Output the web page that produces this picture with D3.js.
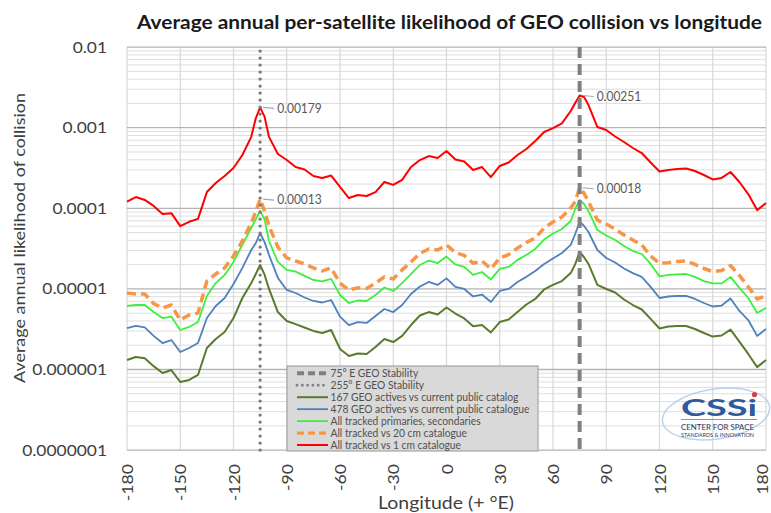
<!DOCTYPE html>
<html><head><meta charset="utf-8">
<script src="https://cdn.jsdelivr.net/npm/d3@7"></script>
<style>
body{margin:0;background:#fff}
svg{display:block}
text{font-family:Lato,"Open Sans",sans-serif}
</style>
</head><body>
<svg id="c" width="771" height="513"></svg>
<script>
// ---------- DATA ----------
const lon = [-180,-175,-170,-165,-160,-155,-150,-145,-140,-135,-130,-125,-120,-115,-110,-107.5,-105,-102.5,-100,-95,-90,-85,-80,-75,-70,-65,-60,-55,-50,-45,-40,-35,-30,-25,-20,-15,-10,-5,0,5,10,15,20,25,30,35,40,45,50,55,60,65,70,72.5,75,77.5,80,85,90,95,100,105,110,115,120,125,130,135,140,145,150,155,160,165,170,175,180];

const red1cm = [1.21e-4,1.38e-4,1.27e-4,1.07e-4,8.5e-5,8.7e-5,6.0e-5,6.8e-5,7.4e-5,1.59e-4,2.06e-4,2.52e-4,3.16e-4,4.58e-4,7.7e-4,1.3e-3,1.79e-3,1.37e-3,7.7e-4,4.72e-4,3.97e-4,3.25e-4,3.03e-4,2.52e-4,2.38e-4,2.55e-4,1.84e-4,1.34e-4,1.46e-4,1.42e-4,1.59e-4,2.12e-4,1.95e-4,2.25e-4,3.25e-4,3.97e-4,4.45e-4,4.21e-4,5.14e-4,4.03e-4,3.81e-4,2.99e-4,3.25e-4,2.44e-4,3.35e-4,3.70e-4,4.58e-4,5.44e-4,6.84e-4,8.85e-4,9.9e-4,1.13e-3,1.61e-3,2.03e-3,2.51e-3,2.40e-3,1.91e-3,1.02e-3,9.35e-4,7.78e-4,6.65e-4,5.6e-4,4.85e-4,3.70e-4,2.86e-4,2.99e-4,3.07e-4,3.12e-4,2.90e-4,2.59e-4,2.28e-4,2.38e-4,2.82e-4,2.12e-4,1.50e-4,9.5e-5,1.16e-4];

const orange20cm = [8.89e-6,8.65e-6,8.65e-6,6.59e-6,5.79e-6,6.31e-6,4.11e-6,4.74e-6,5.02e-6,1.25e-5,1.53e-5,1.82e-5,2.56e-5,3.93e-5,6.57e-5,9.0e-5,1.3e-4,9.25e-5,6.03e-5,3.31e-5,2.42e-5,2.22e-5,2.04e-5,1.82e-5,1.67e-5,1.82e-5,1.18e-5,9.7e-6,1.03e-5,1.01e-5,1.18e-5,1.41e-5,1.33e-5,1.72e-5,2.16e-5,2.75e-5,3.13e-5,3.04e-5,3.51e-5,2.83e-5,2.60e-5,2.08e-5,2.22e-5,1.77e-5,2.42e-5,2.67e-5,3.21e-5,3.77e-5,4.28e-5,5.70e-5,6.76e-5,7.80e-5,1.01e-4,1.21e-4,1.8e-4,1.53e-4,1.21e-4,7.15e-5,6.38e-5,5.53e-5,4.66e-5,4.05e-5,3.51e-5,2.56e-5,2.08e-5,2.11e-5,2.19e-5,2.22e-5,2.01e-5,1.79e-5,1.64e-5,1.69e-5,1.95e-5,1.47e-5,1.06e-5,7.5e-6,8.17e-6];

const greenTracked = [6.14e-6,6.31e-6,6.31e-6,5.16e-6,4.35e-6,4.52e-6,3.09e-6,3.37e-6,3.88e-6,8.17e-6,1.18e-5,1.49e-5,2.16e-5,3.51e-5,5.70e-5,7.3e-5,9.25e-5,7.3e-5,3.93e-5,2.16e-5,1.72e-5,1.64e-5,1.45e-5,1.29e-5,1.24e-5,1.33e-5,8.4e-6,6.68e-6,7.18e-6,7.08e-6,8.4e-6,1.04e-5,9.42e-6,1.18e-5,1.53e-5,1.98e-5,2.25e-5,2.09e-5,2.52e-5,2.01e-5,1.87e-5,1.49e-5,1.62e-5,1.31e-5,1.77e-5,1.87e-5,2.29e-5,2.64e-5,3.13e-5,4.10e-5,4.87e-5,5.53e-5,6.95e-5,9.8e-5,1.27e-4,1.13e-4,9.25e-5,5.38e-5,4.60e-5,4.05e-5,3.40e-5,2.95e-5,2.71e-5,2.04e-5,1.43e-5,1.49e-5,1.51e-5,1.53e-5,1.41e-5,1.25e-5,1.17e-5,1.17e-5,1.41e-5,1.03e-5,7.71e-6,5.02e-6,5.79e-6];

const blue478 = [3.27e-6,3.47e-6,3.34e-6,2.61e-6,2.13e-6,2.32e-6,1.65e-6,1.85e-6,2.13e-6,4.35e-6,6.14e-6,7.71e-6,1.15e-5,1.82e-5,3.04e-5,3.68e-5,4.94e-5,3.8e-5,2.64e-5,1.37e-5,9.7e-6,8.89e-6,7.82e-6,7.08e-6,6.78e-6,7.28e-6,4.52e-6,3.56e-6,3.88e-6,3.78e-6,4.61e-6,5.63e-6,5.16e-6,6.31e-6,8.65e-6,1.07e-5,1.22e-5,1.12e-5,1.35e-5,1.06e-5,9.98e-6,8.05e-6,8.51e-6,6.88e-6,9.42e-6,9.98e-6,1.22e-5,1.41e-5,1.67e-5,2.04e-5,2.38e-5,2.79e-5,3.51e-5,4.8e-5,6.82e-5,6.03e-5,5.08e-5,3.04e-5,2.42e-5,2.13e-5,1.79e-5,1.57e-5,1.41e-5,1.06e-5,7.71e-6,8.05e-6,8.17e-6,8.17e-6,7.5e-6,6.68e-6,6.05e-6,6.22e-6,7.6e-6,5.32e-6,4.11e-6,2.61e-6,3.18e-6];

const olive167 = [1.31e-6,1.43e-6,1.38e-6,1.10e-6,9.04e-7,9.84e-7,7.0e-7,7.41e-7,8.55e-7,1.85e-6,2.39e-6,2.92e-6,4.35e-6,7.71e-6,1.18e-5,1.52e-5,1.98e-5,1.5e-5,9.98e-6,5.16e-6,4.0e-6,3.66e-6,3.32e-6,3.01e-6,2.84e-6,3.09e-6,1.80e-6,1.47e-6,1.58e-6,1.56e-6,1.90e-6,2.39e-6,2.19e-6,2.61e-6,3.56e-6,4.68e-6,5.16e-6,4.81e-6,5.88e-6,4.95e-6,4.30e-6,3.44e-6,3.56e-6,2.88e-6,3.88e-6,4.17e-6,5.16e-6,6.40e-6,7.5e-6,9.84e-6,1.12e-5,1.25e-5,1.57e-5,2.02e-5,2.89e-5,2.47e-5,2.04e-5,1.12e-5,9.98e-6,9.02e-6,7.39e-6,6.31e-6,5.55e-6,4.24e-6,3.23e-6,3.41e-6,3.47e-6,3.47e-6,3.18e-6,2.84e-6,2.56e-6,2.64e-6,3.13e-6,2.22e-6,1.56e-6,1.07e-6,1.31e-6];

const xTicks = [-180,-150,-120,-90,-60,-30,0,30,60,90,120,150,180];
const yTicks = [1e-7,1e-6,1e-5,1e-4,1e-3,1e-2];
const yTickLabels = ["0.0000001","0.000001","0.00001","0.0001","0.001","0.01"];
const stabilityLon = [75,-105];
const legendLabels = ["75° E GEO Stability","255° E GEO Stability","167 GEO actives vs current public catalog","478 GEO actives vs current public catalogue","All tracked primaries, secondaries","All tracked vs 20 cm catalogue","All tracked vs 1 cm catalogue"];
const peakLon = [-105,-105,75,75];
const peakVal = [0.00179,0.00013,0.00251,0.00018];
const peakText = ["0.00179","0.00013","0.00251","0.00018"];

// ---------- CHART ----------
const svg = d3.select("#c");
const L = 127, R = 766, T = 47.1, B = 450.1;
const x = d3.scaleLinear().domain([-180,180]).range([L,R]);
const y = d3.scaleLog().domain([1e-7,1e-2]).range([B,T]);

function fitW(sel, factor){
  sel.each(function(){
    const n = this.getComputedTextLength();
    d3.select(this).attr("textLength", n*factor).attr("lengthAdjust","spacingAndGlyphs");
  });
}

// gridlines
const g = svg.append("g");
const minor = [];
for (let e=-7; e<-2; e++) for (let m=2; m<=9; m++) minor.push(m*Math.pow(10,e));
g.selectAll("line.mn").data(minor).join("line")
  .attr("x1",L).attr("x2",R).attr("y1",d=>y(d)).attr("y2",d=>y(d))
  .attr("stroke","#dedede").attr("stroke-width",1);
g.selectAll("line.vx").data(xTicks).join("line")
  .attr("x1",d=>x(d)).attr("x2",d=>x(d)).attr("y1",T).attr("y2",B)
  .attr("stroke","#d9d9d9").attr("stroke-width",1.2);
g.selectAll("line.mj").data(yTicks).join("line")
  .attr("x1",L).attr("x2",R).attr("y1",d=>y(d)).attr("y2",d=>y(d))
  .attr("stroke","#b4b4b4").attr("stroke-width",1.3);

// axes
const yAxis = svg.append("g").attr("transform",`translate(${L},0)`)
  .call(d3.axisLeft(y).tickValues(yTicks).tickSize(0).tickPadding(20)
        .tickFormat((d,i)=>yTickLabels[i]));
yAxis.select(".domain").remove();
yAxis.selectAll("text").attr("font-size",14.5).attr("fill","#404040")
  .attr("font-family","Lato").attr("dy","0.35em");
fitW(yAxis.selectAll("text"),1.2);

const xAxis = svg.append("g").attr("transform",`translate(0,${B})`)
  .call(d3.axisBottom(x).tickValues(xTicks).tickSize(0).tickFormat(d=>d));
xAxis.select(".domain").remove();
xAxis.selectAll("text").attr("font-size",16).attr("fill","#404040").attr("font-family","Lato")
  .attr("text-anchor","end").attr("y",0).attr("dy","0.35em")
  .attr("transform",d=>`translate(${Math.min(0, 761.5 - x(d))},14) rotate(-90)`);
fitW(xAxis.selectAll("text"),1.1);

// series
const line = d3.line().x((d,i)=>x(lon[i])).y(d=>y(d));
const series = [
  {v:olive167, c:"#5a7a2e", w:2, dash:null},
  {v:blue478, c:"#4f81bd", w:1.8, dash:null},
  {v:greenTracked, c:"#3cf03c", w:1.8, dash:null},
  {v:orange20cm, c:"#f79646", w:3.5, dash:"9,5"},
  {v:red1cm, c:"#ff0000", w:2, dash:null}
];
svg.append("g").selectAll("path").data(series).join("path")
  .attr("d",d=>line(d.v)).attr("fill","none").attr("stroke",d=>d.c)
  .attr("stroke-width",d=>d.w).attr("stroke-dasharray",d=>d.dash)
  .attr("stroke-linejoin","round");

// stability lines
svg.append("line").attr("x1",x(stabilityLon[0])).attr("x2",x(stabilityLon[0]))
  .attr("y1",T).attr("y2",B).attr("stroke","#808080").attr("stroke-width",4)
  .attr("stroke-dasharray","11,6");
svg.append("line").attr("x1",x(stabilityLon[1])).attr("x2",x(stabilityLon[1]))
  .attr("y1",T+4).attr("y2",B).attr("stroke","#7a7a7a").attr("stroke-width",3.4)
  .attr("stroke-linecap","round").attr("stroke-dasharray","0,7");

// peak labels
const pk = svg.append("g");
peakLon.forEach((lo,i)=>{
  const px = x(lo), py = y(peakVal[i]);
  pk.append("line").attr("x1",px+3).attr("x2",px+14).attr("y1",py).attr("y2",py+1)
    .attr("stroke","#a6a6a6").attr("stroke-width",1.2);
  pk.append("text").attr("x",px+17).attr("y",py+1).attr("dy","0.35em")
    .attr("font-size",12.5).attr("fill","#595959").text(peakText[i])
    .attr("textLength",44.6).attr("lengthAdjust","spacingAndGlyphs");
});

// legend
const lg = svg.append("g");
lg.append("rect").attr("x",287).attr("y",366).attr("width",251).attr("height",85)
  .attr("fill","#d9d9d9").attr("stroke","#a6a6a6").attr("stroke-width",1.2);
const legStyles = [
  {c:"#808080", w:4, dash:"7,4", cap:"butt"},
  {c:"#7f7f7f", w:2.8, dash:"0,5.3", cap:"round"},
  {c:"#5a7a2e", w:2, dash:null, cap:"butt"},
  {c:"#4f81bd", w:1.8, dash:null, cap:"butt"},
  {c:"#3cf03c", w:1.8, dash:null, cap:"butt"},
  {c:"#f79646", w:3.2, dash:"7,4", cap:"butt"},
  {c:"#ff0000", w:2, dash:null, cap:"butt"}
];
legendLabels.forEach((t,i)=>{
  const yy = 373.3 + i*11.95;
  const s = legStyles[i];
  lg.append("line").attr("x1",297).attr("x2",328).attr("y1",yy).attr("y2",yy)
    .attr("stroke",s.c).attr("stroke-width",s.w).attr("stroke-dasharray",s.dash)
    .attr("stroke-linecap",s.cap);
  lg.append("text").attr("x",330.5).attr("y",yy).attr("dy","0.35em")
    .attr("font-size",10.8).attr("fill","#505050").text(t);
});
const lt = lg.selectAll("text");
const refLen = lt.nodes()[3].getComputedTextLength();
fitW(lt, 199/refLen);

// titles
svg.append("text").attr("x",449.5).attr("y",29).attr("text-anchor","middle")
  .attr("font-size",18.5).attr("font-weight","bold").attr("fill","#1a1a1a")
  .text("Average annual per-satellite likelihood of GEO collision vs longitude")
  .attr("textLength",625).attr("lengthAdjust","spacingAndGlyphs");
svg.append("text").attr("transform","translate(25,238) rotate(-90)").attr("text-anchor","middle")
  .attr("font-size",16).attr("fill","#404040").text("Average annual likelihood of collision")
  .attr("textLength",290).attr("lengthAdjust","spacingAndGlyphs");
svg.append("text").attr("x",446).attr("y",509).attr("text-anchor","middle")
  .attr("font-size",17).attr("fill","#404040").text("Longitude (+ °E)")
  .attr("textLength",136).attr("lengthAdjust","spacingAndGlyphs");

// logo
const lo = svg.append("g");
lo.append("ellipse").attr("cx",716).attr("cy",414).attr("rx",54).attr("ry",25)
  .attr("transform","rotate(-8,716,414)")
  .attr("fill","none").attr("stroke","#a9c8e8").attr("stroke-width",1.5).attr("opacity",0.8);
lo.append("text").attr("x",681).attr("y",416).attr("font-family","DejaVu Sans")
  .attr("font-weight","bold").attr("font-size",22).attr("fill","#2f5a9c").text("CSSi")
  .attr("textLength",76).attr("lengthAdjust","spacingAndGlyphs");
lo.append("circle").attr("cx",754.5).attr("cy",394.5).attr("r",2.6).attr("fill","#e23a3a");
lo.append("line").attr("x1",681).attr("x2",757).attr("y1",419.5).attr("y2",419.5)
  .attr("stroke","#e07070").attr("stroke-width",1);
lo.append("text").attr("x",681).attr("y",429.5).attr("font-family","Liberation Serif")
  .attr("font-size",8).attr("fill","#1f3864").text("CENTER FOR SPACE")
  .attr("textLength",73).attr("lengthAdjust","spacingAndGlyphs");
lo.append("text").attr("x",681).attr("y",436.5).attr("font-family","Liberation Serif")
  .attr("font-size",5.5).attr("fill","#1f3864").text("STANDARDS & INNOVATION")
  .attr("textLength",73).attr("lengthAdjust","spacingAndGlyphs");
</script>
</body></html>
